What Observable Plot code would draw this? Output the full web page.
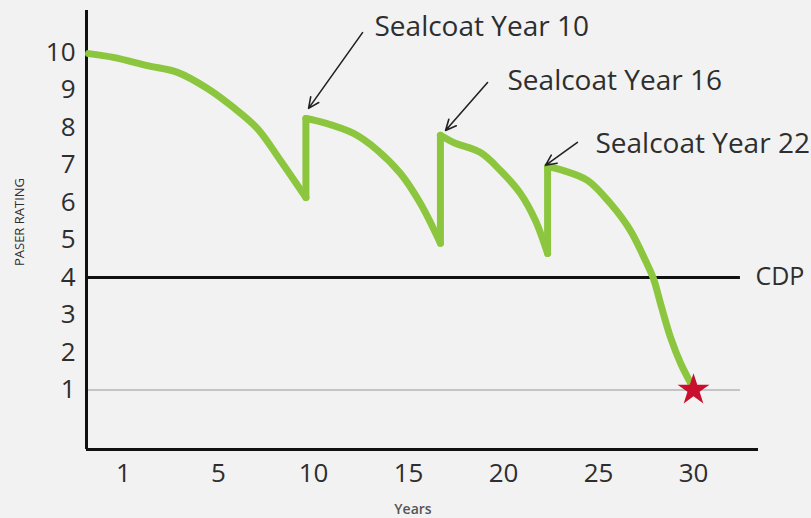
<!DOCTYPE html>
<html>
<head>
<meta charset="utf-8">
<script src="https://cdn.jsdelivr.net/npm/d3@7"></script>
<script src="https://cdn.jsdelivr.net/npm/@observablehq/plot@0.6"></script>
<style>
  html, body { margin: 0; padding: 0; background: #f2f2f2; }
  #chart svg { display: block; }
</style>
</head>
<body>
<div id="chart"></div>
<script>
// Pavement condition curve (PASER rating over years)
const curveYears = [-1.84, -0.53, 1.26, 2.84, 4.42, 5.79, 7.05, 8.26, 9.6,
                    9.6, 10.53, 12.11, 13.37, 14.58, 15.63, 16.68,
                    16.68, 17.37, 18.79, 19.84, 20.89, 21.68, 22.32,
                    22.32, 23.16, 24.42, 25.63, 26.68, 27.47, 27.89, 28.26, 28.79, 29.32, 30.0];
const curveRatings = [9.97, 9.87, 9.65, 9.47, 9.04, 8.53, 7.97, 7.12, 6.13,
                      8.24, 8.13, 7.84, 7.39, 6.77, 5.97, 4.91,
                      7.79, 7.6, 7.33, 6.85, 6.24, 5.52, 4.64,
                      6.96, 6.85, 6.59, 5.97, 5.25, 4.45, 3.97, 3.31, 2.4, 1.71, 1.04];
// which wear cycle each point belongs to (a sealcoat starts a new cycle)
const curveCycle = [1, 1, 1, 1, 1, 1, 1, 1, 1,
                    2, 2, 2, 2, 2, 2, 2,
                    3, 3, 3, 3, 3, 3, 3,
                    4, 4, 4, 4, 4, 4, 4, 4, 4, 4, 4];

// Sealcoat annotations
const noteLabels = ["Sealcoat Year 10", "Sealcoat Year 16", "Sealcoat Year 22"];
const noteTextX = [13.21, 20.21, 24.84];
const noteTextY = [10.67, 9.25, 7.57];
const arrowFromX = [12.58, 19.16, 23.89];
const arrowFromY = [10.53, 9.2, 7.6];
const arrowToX = [9.74, 16.95, 22.21];
const arrowToY = [8.51, 7.92, 6.99];

// Reference levels
const cdpRating = 4;
const failRating = 1;
const failYear = 30;
const refLineEnd = 32.47;
const cdpLabelX = 33.26;

// Ticks
const xTicks = [0, 5, 10, 15, 20, 25, 30];
const xTickLabels = ["1", "5", "10", "15", "20", "25", "30"];
const yTicks = [1, 2, 3, 4, 5, 6, 7, 8, 9, 10];

const xMin = -1.947, xMax = 33.42;
const yMin = -0.59, yMax = 11.12;

const curve = curveYears.map((x, i) => ({x, y: curveRatings[i], c: curveCycle[i]}));
// vertical jumps where a sealcoat restores the rating
const jumps = [];
for (let i = 1; i < curve.length; i++) {
  if (curve[i].c !== curve[i - 1].c) jumps.push({x1: curve[i - 1].x, y1: curve[i - 1].y, x2: curve[i].x, y2: curve[i].y});
}
const notes = noteLabels.map((t, i) => ({t, x: noteTextX[i], y: noteTextY[i],
  x1: arrowFromX[i], y1: arrowFromY[i], x2: arrowToX[i], y2: arrowToY[i]}));

const textColor = "#2e2e2e";
const green = "#8cc63f";

const chart = Plot.plot({
  width: 811,
  height: 518,
  marginLeft: 86,
  marginRight: 53,
  marginTop: 10,
  marginBottom: 69,
  style: {fontFamily: "'Open Sans', sans-serif", background: "#f2f2f2", color: textColor, overflow: "visible"},
  x: {domain: [xMin, xMax]},
  y: {domain: [yMin, yMax]},
  marks: [
    // reference lines
    Plot.ruleY([failRating], {x1: xMin, x2: refLineEnd, stroke: "#b5b5b5", strokeWidth: 1.5}),
    Plot.ruleY([cdpRating], {x1: xMin, x2: refLineEnd, stroke: "#111", strokeWidth: 3}),
    Plot.text([{x: cdpLabelX, y: cdpRating, t: "CDP"}], {x: "x", y: "y", text: "t", textAnchor: "start", fontSize: 25, fill: textColor}),
    // axes frame
    Plot.ruleX([xMin], {y1: yMin, y2: yMax, stroke: "#111", strokeWidth: 3}),
    Plot.ruleY([yMin], {x1: xMin, x2: xMax, stroke: "#111", strokeWidth: 3}),
    Plot.axisY({ticks: yTicks, tickSize: 0, tickPadding: 11, fontSize: 26, fill: textColor, label: null}),
    Plot.axisX({ticks: xTicks, tickSize: 0, tickPadding: 14, fontSize: 26, fill: textColor,
      tickFormat: (d) => xTickLabels[xTicks.indexOf(d)], label: null}),
    // curve: smooth wear within each cycle, straight jumps at sealcoats
    Plot.line(curve, {x: "x", y: "y", z: "c", stroke: green, strokeWidth: 7, curve: "catmull-rom",
      strokeLinejoin: "round", strokeLinecap: "round"}),
    Plot.link(jumps, {x1: "x1", y1: "y1", x2: "x2", y2: "y2", stroke: green, strokeWidth: 7, strokeLinecap: "round"}),
    // star at failure
    Plot.dot([{x: failYear, y: failRating}], {x: "x", y: "y", symbol: "star", r: 10, fill: "#c8102e", stroke: "none"}),
    // annotations
    Plot.arrow(notes, {x1: "x1", y1: "y1", x2: "x2", y2: "y2", stroke: "#222", strokeWidth: 1.6, headLength: 11, headAngle: 50}),
    Plot.text(notes, {x: "x", y: "y", text: "t", textAnchor: "start", fontSize: 28, fill: textColor})
  ]
});

// axis titles
const svg = d3.select(chart);
svg.append("text")
  .attr("transform", "translate(21,222) rotate(-90)")
  .attr("text-anchor", "middle")
  .attr("dominant-baseline", "middle")
  .attr("font-size", 13)
  .attr("fill", textColor)
  .text("PASER RATING");
svg.append("text")
  .attr("x", 413).attr("y", 510)
  .attr("text-anchor", "middle")
  .attr("dominant-baseline", "middle")
  .attr("font-size", 14)
  .attr("font-weight", "600")
  .attr("fill", "#555")
  .text("Years");

document.getElementById("chart").appendChild(chart);
</script>
</body>
</html>
